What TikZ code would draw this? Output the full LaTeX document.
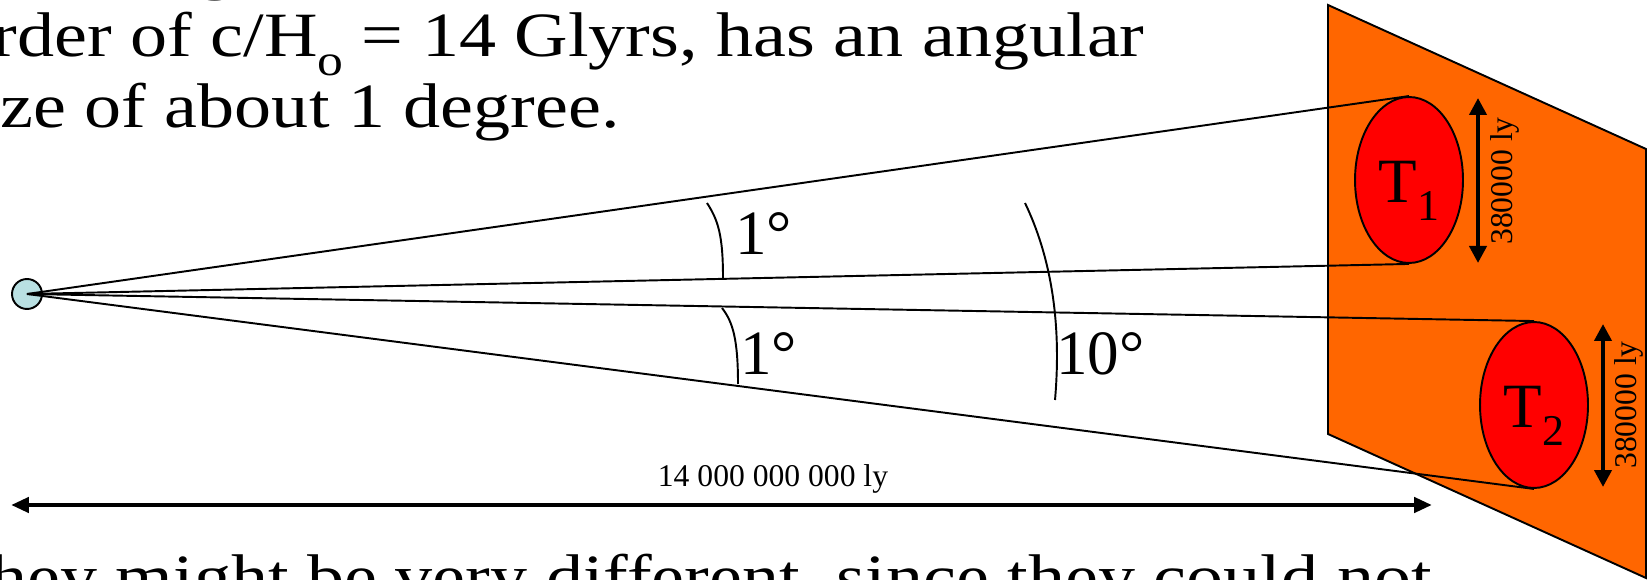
\documentclass[tikz,border=0pt]{standalone}
\usepackage{fontspec}
\setmainfont{Liberation Serif}
\usetikzlibrary{positioning,arrows.meta,shapes.geometric}
\definecolor{screenorange}{RGB}{255,102,0}
\definecolor{observerblue}{RGB}{185,224,226}
\newcommand{\wide}[1]{\scalebox{1.175}[1]{#1}}
\newcommand{\subsz}{\fontsize{25pt}{25pt}\selectfont}

\begin{document}
\begin{tikzpicture}[
  x=0.02cm, y=-0.02cm,
  bigtext/.style={font=\fontsize{35.9pt}{40pt}\selectfont, inner sep=0pt},
  smalltext/.style={font=\fontsize{18pt}{20pt}\selectfont, inner sep=0pt},
  sight/.style={line width=1.1pt},
  target/.style={
    ellipse, draw, line width=1.1pt, fill=red,
    minimum width=2.16cm, minimum height=3.32cm, inner sep=0pt,
    text height=1.26cm, text depth=0.34cm,
    font=\fontsize{35.9pt}{40pt}\selectfont
  },
  observer/.style={circle, draw, line width=1.1pt, fill=observerblue,
    minimum size=0.6cm, inner sep=0pt},
  dimarr/.style={{Triangle[length=0.34cm,width=0.34cm]}-{Triangle[length=0.34cm,width=0.34cm]},
    line width=2.3pt},
  spanarr/.style={{Triangle[length=0.36cm,width=0.3cm]}-{Triangle[length=0.36cm,width=0.3cm]},
    line width=2.8pt}
]
\useasboundingbox (0,0) rectangle (1650,580);
\clip (0,0) rectangle (1650,580);

% Text
\node[bigtext, anchor=base] (gtail) at (216,-12) {\wide{g}};
\node[bigtext, anchor=base east] (line1) at (1145,57)
  {\wide{rder of c/H\raisebox{-0.29em}{\subsz o} = 14 Glyrs, has an angular}};
\node[bigtext, anchor=base west] (line2) at (0,128) {\wide{ze of about 1 degree.}};
\node[bigtext, anchor=base east] (line3) at (1432,599)
  {\wide{hey might be very different, since they could not}};

% Screen
\draw[line width=1.1pt, fill=screenorange]
  (1328,5) -- (1646,149) -- (1646,578) -- (1328,434) -- cycle;

% Observer and targets
\node[observer] (obs) at (27,294) {};
\node[target] (T1) at (1409,180) {T\raisebox{-0.27em}{\subsz 1}};
\node[target] (T2) at (1534,405) {T\raisebox{-0.27em}{\subsz 2}};

% Lines of sight
\draw[sight] (obs.center) -- (T1.north);
\draw[sight] (obs.center) -- (T1.south);
\draw[sight] (obs.center) -- (T2.north);
\draw[sight] (obs.center) -- (T2.south);

% Angles
\draw[sight] (707,203) .. controls (718,220) and (723,235) .. (723,278);
\draw[sight] (722,308) .. controls (733,322) and (738,340) .. (738,384);
\draw[sight] (1025,203) .. controls (1050,255) and (1062,320) .. (1055,400);
\node[bigtext, anchor=base west] (ang1) at (735,255) {1°};
\node[bigtext, anchor=base west] (ang2) at (740,375) {1°};
\node[bigtext, anchor=base west] (ang10) at (1056,375) {10°};

% Sizes
\coordinate (d1top) at (1478,98);
\coordinate (d1bot) at (1478,263);
\coordinate (d2top) at (1603,324);
\coordinate (d2bot) at (1603,487);
\draw[dimarr] (d1top) -- (d1bot);
\draw[dimarr] (d2top) -- (d2bot);
\node[smalltext, rotate=90, anchor=base] (size1) at (1512,181) {380000 ly};
\node[smalltext, rotate=90, anchor=base] (size2) at (1636,405) {380000 ly};

% Distance
\coordinate (spanL) at (11,505);
\coordinate (spanR) at (1432,505);
\draw[spanarr] (spanL) -- (spanR);
\node[smalltext, anchor=base] (dist) at (773,487) {14 000 000 000 ly};

\end{tikzpicture}
\end{document}
